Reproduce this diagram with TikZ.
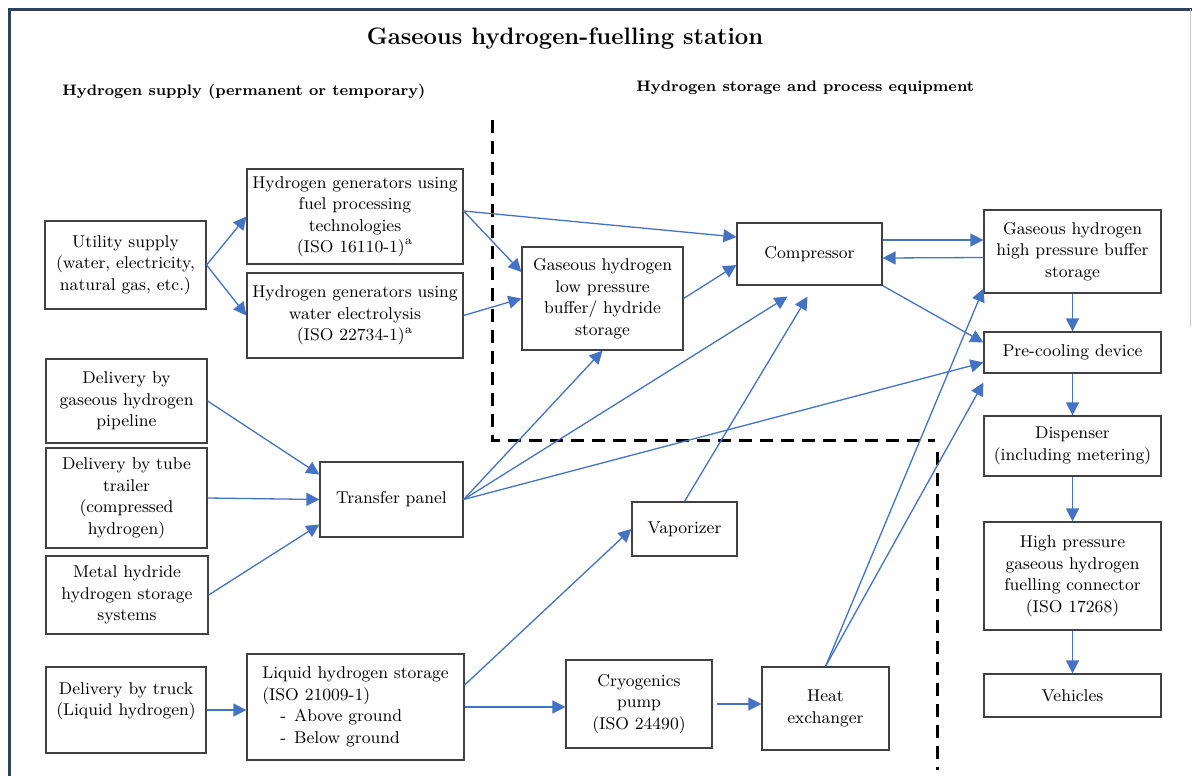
\documentclass[tikz,border=0pt]{standalone}
\usepackage{xcolor}
\usepackage{tikz}
\usetikzlibrary{arrows.meta,calc}

\definecolor{flowblue}{RGB}{68,114,196}
\definecolor{framenavy}{RGB}{44,66,96}

\begin{document}
\begin{tikzpicture}[x=0.5pt,y=-0.5pt,
    box/.style={draw=black!75,line width=0.6pt,align=center,inner sep=1pt,font=\fontsize{8.55}{10.75}\selectfont},
    flow/.style={draw=flowblue,line width=0.65pt,-{Triangle[length=6.5pt,width=6.5pt,fill=flowblue]}},
    border/.style={black,line width=1.5pt,dash pattern=on 6.5pt off 4pt},
    heading/.style={font=\fontsize{7.6}{10}\bfseries\selectfont,anchor=west,inner sep=0pt}]
    \fill[white] (0,0) rectangle (1192,776);
    \useasboundingbox (0,0) rectangle (1192,776);
    \draw[framenavy,line width=1.5pt] (9,776) -- (9,9) -- (1192,9);
    \draw[black!20,line width=0.5pt] (1190,9) -- (1190,327);

    \node [font=\fontsize{11.9}{14}\bfseries\selectfont] (title) at (565,39) {Gaseous hydrogen-fuelling station};
    \node [heading] (supplyhead) at (62,92) {Hydrogen supply (permanent or temporary)};
    \node [heading] (storagehead) at (636,88) {Hydrogen storage and process equipment};

    \draw[border] (492,120) -- (492,440) -- (935,440);
    \draw[border] (937,452) -- (937,770);

    \node [box,minimum width=80.5pt,minimum height=44pt] (util) at (125.5,265) {Utility supply\\(water, electricity,\\natural gas, etc.)};
    \node [box,minimum width=108pt,minimum height=47.5pt] (genfp) at (355,216.5) {Hydrogen generators using\\fuel processing\\technologies\\(ISO 16110-1)\textsuperscript{a}};
    \node [box,minimum width=108pt,minimum height=42.5pt] (genel) at (355,315.5) {Hydrogen generators using\\water electrolysis\\(ISO 22734-1)\textsuperscript{a}};
    \node [box,minimum width=80.5pt,minimum height=42pt] (pipe) at (126.5,401) {Delivery by\\gaseous hydrogen\\pipeline};
    \node [box,minimum width=80.5pt,minimum height=50pt] (tube) at (126.5,498) {Delivery by tube\\trailer\\(compressed\\hydrogen)};
    \node [box,minimum width=81pt,minimum height=39pt] (metal) at (127,595) {Metal hydride\\hydrogen storage\\systems};
    \node [box,minimum width=80pt,minimum height=43pt] (truck) at (126,710) {Delivery by truck\\(Liquid hydrogen)\\~};
    \node [box,minimum width=108.5pt,minimum height=53pt,align=left] (lhstore) at (355.5,707) {Liquid hydrogen storage\\(ISO 21009-1)\\\hspace*{9pt}-\hspace{4pt}Above ground\\\hspace*{9pt}-\hspace{4pt}Below ground};
    \node [box,minimum width=71.5pt,minimum height=37.5pt] (transfer) at (391.5,499.5) {Transfer panel};
    \node [box,minimum width=80.5pt,minimum height=51.5pt] (lpbuf) at (602.5,298.5) {Gaseous hydrogen\\low pressure\\buffer/ hydride\\storage};
    \node [box,minimum width=72.5pt,minimum height=31pt] (comp) at (809.5,254) {Compressor};
    \node [box,minimum width=52.5pt,minimum height=27pt] (vapor) at (684.5,529) {Vaporizer};
    \node [box,minimum width=73pt,minimum height=44pt] (cryo) at (639,704) {Cryogenics\\pump\\(ISO 24490)};
    \node [box,minimum width=63.5pt,minimum height=41.5pt] (heatx) at (825.5,708.5) {Heat\\exchanger};
    \node [box,minimum width=88.5pt,minimum height=41.5pt] (hpbuf) at (1072.5,251.5) {Gaseous hydrogen\\high pressure buffer\\storage};
    \node [box,minimum width=88.5pt,minimum height=20.5pt] (precool) at (1072.5,352.5) {Pre-cooling device};
    \node [box,minimum width=88.5pt,minimum height=30pt] (disp) at (1072.5,446) {Dispenser\\(including metering)};
    \node [box,minimum width=88.5pt,minimum height=54pt] (conn) at (1072.5,576) {High pressure\\gaseous hydrogen\\fuelling connector\\(ISO 17268)};
    \node [box,minimum width=88.5pt,minimum height=21.5pt] (veh) at (1072.5,695.5) {Vehicles};

    \coordinate (cin1) at ($(comp.south)+(-22,11)$);
    \coordinate (cin2) at ($(comp.south)+(-2,11)$);

    \draw[flow] (util.east) -- (genfp.west);
    \draw[flow] (util.east) -- (genel.west);
    \draw[flow] ($(genfp.east)+(0,-5.5)$) -- ($(comp.west)+(0,-17)$);
    \draw[flow] ($(genfp.east)+(0,-5.5)$) -- ($(lpbuf.west)+(0,-26.5)$);
    \draw[flow] (genel.east) -- (lpbuf.west);
    \draw[flow] (lpbuf.east) -- ($(comp.west)+(0,11)$);
    \draw[flow] (pipe.east) -- ($(transfer.west)+(0,-25)$);
    \draw[flow] (tube.east) -- (transfer.west);
    \draw[flow] (metal.east) -- ($(transfer.west)+(0,25)$);
    \draw[flow] (transfer.east) -- (lpbuf.south);
    \draw[flow] (transfer.east) -- (cin1);
    \draw[flow] (transfer.east) -- ($(precool.west)+(0,10)$);
    \draw[flow] (vapor.north) -- (cin2);
    \draw[flow] (truck.east) -- (truck.east -| lhstore.west);
    \draw[flow] ($(lhstore.east)+(0,-22)$) -- (vapor.west);
    \draw[flow] (lhstore.east) -- (lhstore.east -| cryo.west);
    \draw[flow,shorten <=2pt] (cryo.east) -- (cryo.east -| heatx.west);
    \draw[flow] (heatx.north) -- ($(hpbuf.south west)+(0,-5)$);
    \draw[flow] (heatx.north) -- ($(precool.south west)+(0,9)$);
    \draw[flow] ($(comp.east)+(0,-14)$) -- ($(hpbuf.west)+(0,-11.5)$);
    \draw[flow] ($(hpbuf.west)+(0,6)$) -- ($(comp.east)+(0,4)$);
    \draw[flow] (comp.south east) -- ($(precool.west)+(0,-10)$);
    \draw[flow] (hpbuf.south) -- (precool.north);
    \draw[flow] (precool.south) -- (disp.north);
    \draw[flow] (disp.south) -- (conn.north);
    \draw[flow] (conn.south) -- (veh.north);
\end{tikzpicture}
\end{document}
